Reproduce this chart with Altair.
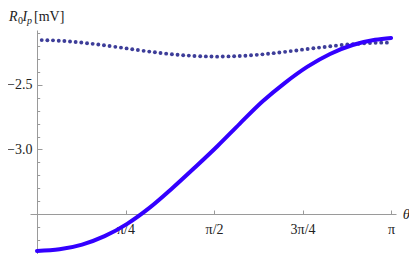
import math
import altair as alt
import pandas as pd

# ---- data ----
dot_theta = [0.042, 0.092, 0.142, 0.193, 0.243, 0.293, 0.343, 0.393, 0.444, 0.494,
             0.544, 0.594, 0.644, 0.695, 0.745, 0.795, 0.845, 0.895, 0.946, 0.996,
             1.046, 1.096, 1.146, 1.197, 1.247, 1.297, 1.347, 1.397, 1.448, 1.498,
             1.548, 1.598, 1.648, 1.699, 1.749, 1.799, 1.849, 1.899, 1.950, 2.000,
             2.050, 2.100, 2.150, 2.201, 2.251, 2.301, 2.351, 2.401, 2.452, 2.502,
             2.552, 2.602, 2.652, 2.703, 2.753, 2.803, 2.853, 2.903, 2.954, 3.004,
             3.054, 3.104]
dot_vals = [-2.155, -2.156, -2.157, -2.160, -2.162, -2.166, -2.170, -2.174, -2.179, -2.184,
            -2.189, -2.195, -2.201, -2.207, -2.213, -2.219, -2.226, -2.232, -2.238, -2.244,
            -2.249, -2.255, -2.260, -2.264, -2.268, -2.272, -2.275, -2.278, -2.280, -2.281,
            -2.282, -2.283, -2.282, -2.281, -2.280, -2.278, -2.276, -2.272, -2.269, -2.265,
            -2.261, -2.256, -2.251, -2.246, -2.240, -2.235, -2.229, -2.224, -2.218, -2.213,
            -2.208, -2.203, -2.198, -2.193, -2.189, -2.186, -2.183, -2.180, -2.178, -2.176,
            -2.175, -2.175]

line_theta = [0.0, 0.2, 0.4, 0.6, 0.8, 1.0, 1.2, 1.4, 1.6, 1.8, 2.0, 2.2, 2.4, 2.6, 2.8, 3.0, 3.1416]
line_vals = [-3.785, -3.772, -3.735, -3.670, -3.575, -3.450, -3.300, -3.140, -2.975,
             -2.800, -2.630, -2.485, -2.360, -2.262, -2.193, -2.153, -2.138]

x_tick_vals = [math.pi / 4, math.pi / 2, 3 * math.pi / 4, math.pi]
x_tick_labels = ["π/4", "π/2", "3π/4", "π"]
y_label_vals = [-3.0, -2.5]
y_label_texts = ["−3.0", "−2.5"]
y_tick_vals = [-3.7, -3.6, -3.4, -3.3, -3.2, -3.1, -3.0, -2.9, -2.8, -2.7, -2.6,
               -2.5, -2.4, -2.3, -2.2, -2.1]

X_DOMAIN = [-0.062, 3.185]
Y_DOMAIN = [-3.808, -2.077]
W, H = 366, 224

AXIS_GRAY = "#9a9a9a"
FONT = "'Liberation Serif', 'Times New Roman', serif"


def label_expr(vals, texts):
    expr = "''"
    for v, t in zip(vals, texts):
        expr = f"abs(datum.value - ({v})) < 0.001 ? '{t}' : " + expr
    return expr


dot_df = pd.DataFrame({"theta": dot_theta, "v": dot_vals})
line_df = pd.DataFrame({"theta": line_theta, "v": line_vals})

xs = alt.Scale(domain=X_DOMAIN, nice=False, zero=False)
ys = alt.Scale(domain=Y_DOMAIN, nice=False, zero=False)

dots = alt.Chart(dot_df).mark_circle(size=15, color="#3d3d99", opacity=1).encode(
    x=alt.X("theta:Q", scale=xs, axis=alt.Axis(
        orient="bottom", offset=-40, values=x_tick_vals,
        labelExpr=label_expr(x_tick_vals, x_tick_labels),
        ticks=False, tickSize=0, grid=False,
        domainColor=AXIS_GRAY, domainWidth=1,
        labelFont=FONT, labelFontSize=14, labelColor="#222",
        labelBaseline="alphabetic", labelPadding=19,
        labelFlush=False, labelOverlap=False,
        title="θ", titleFont=FONT, titleFontStyle="italic", titleFontSize=15,
        titleFontWeight="normal", titleColor="#222",
        titleX=376, titleY=-1, titleAlign="center", titleBaseline="middle", titleAngle=0)),
    y=alt.Y("v:Q", scale=ys, axis=alt.Axis(
        orient="left", offset=-7, values=y_label_vals,
        labelExpr=label_expr(y_label_vals, y_label_texts),
        ticks=False, tickSize=0, grid=False,
        domainColor=AXIS_GRAY, domainWidth=1,
        labelFont=FONT, labelFontSize=14, labelColor="#222", labelPadding=5,
        labelFlush=False, labelOverlap=False, title=None)),
)

line = alt.Chart(line_df).mark_line(
    color="#3300ff", strokeWidth=4, strokeCap="round", interpolate="monotone"
).encode(
    x=alt.X("theta:Q", scale=xs, axis=alt.Axis(
        orient="top", offset=-184, values=x_tick_vals, labels=False, domain=False,
        ticks=True, tickSize=4, tickColor=AXIS_GRAY, grid=False, title=None)),
    y=alt.Y("v:Q", scale=ys, axis=alt.Axis(
        orient="right", offset=-359, values=y_tick_vals, labels=False, domain=False,
        ticks=True,
        tickSize={"condition": {"test": "abs(datum.value + 3) < 0.01 || abs(datum.value + 2.5) < 0.01",
                                "value": 5}, "value": 2.7},
        tickColor=AXIS_GRAY, grid=False, title=None)),
)

one = pd.DataFrame({"k": [0]})


def txt(s, x, y, size, style="normal"):
    return alt.Chart(one).mark_text(
        text=s, font=FONT, fontSize=size, fontStyle=style, color="#222",
        align="left", baseline="alphabetic"
    ).encode(x=alt.value(x), y=alt.value(y))


title_parts = (txt("R", -21, -9, 14, "italic") + txt("0", -12, -6, 10)
               + txt("I", -7.5, -9, 14, "italic") + txt("p", -3, -6, 10, "italic")
               + txt("[mV]", 4, -9, 14))

chart = alt.layer(dots, line, title_parts).resolve_axis(
    x="independent", y="independent"
).properties(
    width=W, height=H, autosize="none",
    padding={"left": 22, "top": 22, "right": 13, "bottom": 0},
).configure_view(stroke=None)

chart.save("out.html", embed_options={"renderer": "svg", "actions": False})
